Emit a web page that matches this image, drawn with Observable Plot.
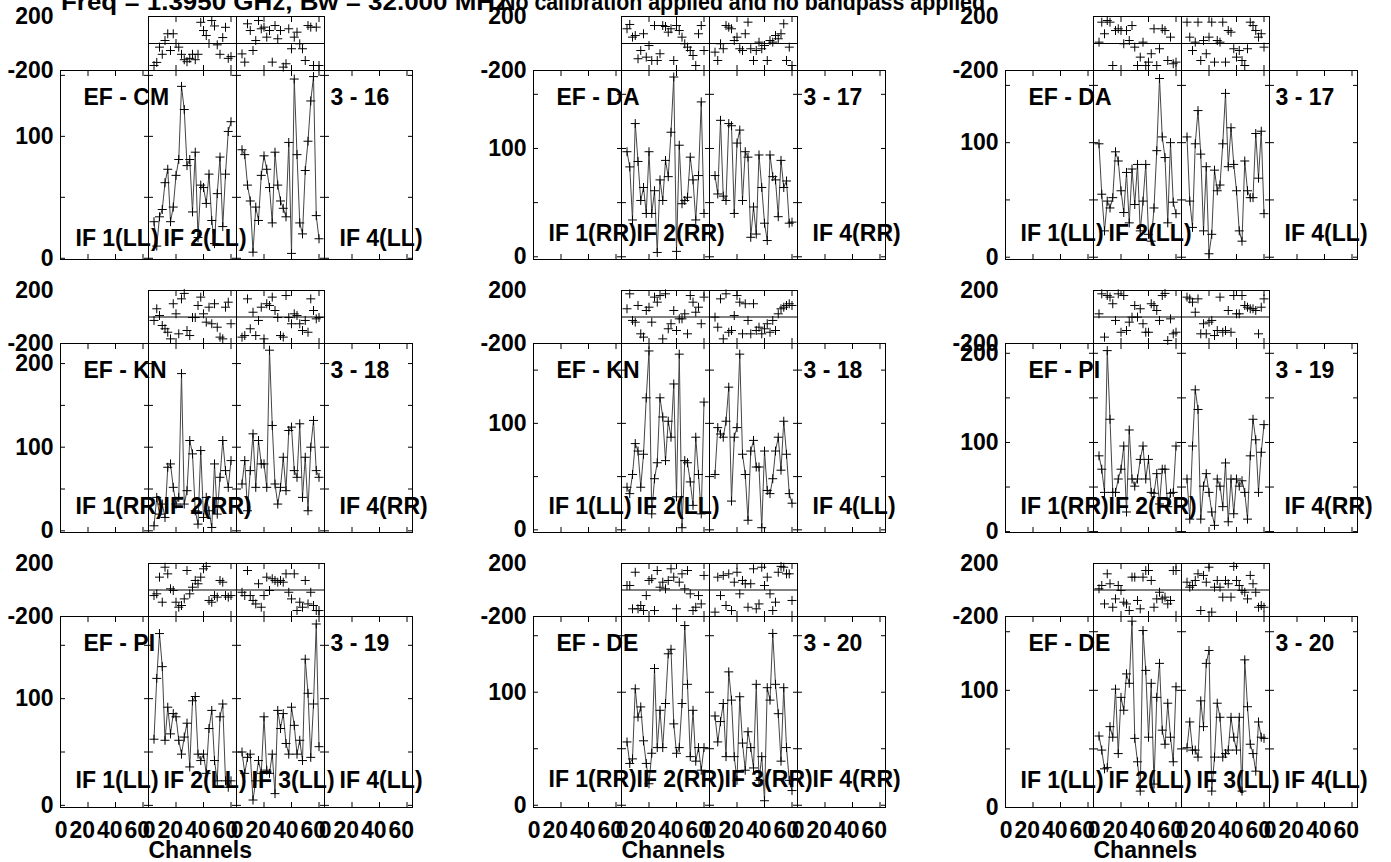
<!DOCTYPE html>
<html><head><meta charset="utf-8">
<script src="https://cdn.jsdelivr.net/npm/d3@7"></script>
<script src="https://cdn.jsdelivr.net/npm/@observablehq/plot@0.6"></script>
<style>
body{margin:0;background:#fff;}
#root{position:relative;width:1391px;height:862px;overflow:hidden;background:#fff;}
#root svg{position:absolute;overflow:visible;}
</style></head><body><div id="root"></div>
<script>
// ---------------- data ----------------
const channels = [4,6,8,10,12,14,16,18,20,22,24,26,28,30,32,34,36,38,40,42,44,46,48,50,52,54,56,58,60];
const ifNumbers = [1,2,3,4];
const channelTicks = [0,20,40,60];
const phaseTicks = [-200,200];
const ampLabelTicks = [0,100,200];
const ampMinorTicks = [0,50,100,150,200];

const baselineLabels = ["EF - CM","EF - DA","EF - DA","EF - KN","EF - KN","EF - PI","EF - PI","EF - DE","EF - DE"];
const timeLabels = ["3 - 16","3 - 17","3 - 17","3 - 18","3 - 18","3 - 19","3 - 19","3 - 20","3 - 20"];
const stokes = ["LL","RR","LL","RR","LL","RR","LL","RR","LL"];
const ampMin = [-1,-2.5,-2,-2,-2.5,-1,-2,-2,0];
const ampMax = [154,172,163,224,175,211,177,167,163];

// EF - CM (LL)
const amp11_if2 = [30,10,34,40,62,73,30,42,68,81,141,122,76,81,38,87,17,60,58,45,69,31,12,53,83,26,69,104,112];
const amp11_if3 = [89,85,60,47,5,42,31,68,84,73,58,29,87,60,47,41,34,95,4,147,85,29,20,72,96,129,149,35,16];
const ph11_if2 = [-163,-140,-27,-80,22,72,-52,72,0,-27,-80,-120,-135,-110,-80,-120,-80,157,96,59,0,170,130,-10,-80,44,120,-110,-97];
const ph11_if3 = [-77,-138,146,96,-52,22,170,109,121,47,96,-138,133,35,96,-175,-150,109,-39,47,84,-2,-39,-126,133,121,-163,121,-163];
// EF - DA (RR)
const amp12_if2 = [97,83,34,123,88,52,64,40,97,40,61,4,71,52,89,74,115,166,5,103,49,52,55,92,71,34,75,143,40];
const amp12_if3 = [75,58,126,56,52,123,121,40,105,117,52,97,92,18,46,21,94,64,31,15,94,74,71,37,89,64,70,31,32];
const ph12_if2 = [109,141,47,59,-113,-52,72,-101,-15,-126,133,-126,-76,133,126,84,109,-126,133,96,47,-2,-27,-52,-89,-163,72,133,-52];
const ph12_if3 = [-64,-126,-2,-39,133,121,109,22,47,-39,-52,72,158,-39,-126,-52,10,-39,-15,-126,22,10,59,35,72,146,-126,-27,-163];
// EF - DA (LL)
const amp13_if2 = [99,55,23,49,43,52,92,84,58,39,74,30,77,46,81,23,49,81,20,14,43,93,156,105,87,30,100,48,38];
const amp13_if3 = [105,49,26,99,128,90,23,79,3,20,76,58,63,99,143,79,113,81,58,23,14,84,58,52,52,108,69,110,38];
const ph13_if2 = [10,158,72,170,158,-163,96,109,96,-2,96,22,133,-27,-163,-101,10,-163,-138,-76,109,-163,-39,109,96,-126,47,-150,-138];
const ph13_if3 = [158,47,-52,10,158,-126,22,-76,47,158,-138,22,10,158,-138,96,84,-39,-101,-52,-126,-163,-39,158,133,96,47,72,-27];
// EF - KN (RR)
const amp21_if2 = [6,40,20,32,16,76,80,52,32,40,188,32,48,108,92,24,8,96,16,40,24,4,80,20,64,108,72,52,84];
const amp21_if3 = [56,84,24,72,116,52,108,80,80,52,216,126,56,32,52,88,48,120,124,72,64,128,40,88,24,100,132,72,64];
const ph21_if2 = [-26,62,11,-64,-89,-115,-165,100,24,-127,137,178,-102,-140,-4,-4,87,150,24,-39,74,-51,100,-77,-152,-165,74,112,-51];
const ph21_if3 = [-152,-140,137,-89,36,-140,-26,74,-165,100,87,150,49,-4,-140,-152,162,-4,-51,24,11,-51,-102,-26,-115,137,49,-14,-4];
// EF - KN (LL)
const amp22_if2 = [40,34,52,81,74,40,71,124,168,15,48,63,124,106,65,102,87,137,31,165,2,65,63,45,23,87,52,15,120];
const amp22_if3 = [52,96,90,87,102,134,27,87,96,165,71,52,9,74,84,59,59,2,74,37,34,48,74,87,56,102,71,34,25];
const ph22_if2 = [62,175,-26,-39,87,-127,-152,49,74,-39,150,112,162,-165,175,-89,-51,49,-102,-14,-14,24,-127,162,112,36,74,-51,150];
const ph22_if3 = [-1,-77,137,-165,175,-115,-102,11,162,112,-127,100,-26,-127,100,-102,-77,-127,-89,-51,-115,-26,-102,24,62,74,87,100,87];
// EF - PI (RR)
const amp23_if2 = [85,70,44,203,126,44,44,59,70,96,22,114,59,51,59,81,96,59,81,44,43,65,31,70,70,28,43,44,96];
const amp23_if3 = [59,14,96,159,137,14,51,65,44,22,7,59,51,28,77,11,59,20,59,51,57,44,14,85,126,103,44,89,120];
const ph23_if2 = [24,175,-152,162,150,100,-26,175,-115,162,-102,-39,-1,87,-1,62,-51,-115,-115,100,87,49,-26,162,178,-177,-14,-127,-115];
const ph23_if3 = [150,137,112,36,137,-127,-51,-127,-39,-26,-140,-102,150,-115,-102,49,-115,162,24,24,162,87,74,62,62,49,-127,74,137];
// EF - PI (LL)
const amp31_if2 = [62,119,161,130,61,92,67,86,83,61,48,64,77,36,98,102,48,42,48,30,72,89,42,23,83,95,23,17,23];
const amp31_if3 = [50,30,45,48,5,23,42,30,83,33,30,48,11,89,72,86,58,48,92,75,48,61,42,137,105,45,95,170,55];
const ph31_if2 = [-42,-29,97,-92,172,122,9,-4,-92,-130,-117,-67,147,-29,21,72,47,97,160,178,-79,-92,-42,-54,72,59,-42,-54,-42];
const ph31_if3 = [-17,-42,147,-42,-79,-105,47,-130,-42,97,-4,85,72,59,72,59,122,-17,-67,122,-155,-92,-130,72,-105,-17,-117,-155,-155];
// EF - DE (RR)
const amp32_if2 = [56,37,41,103,78,87,57,37,19,46,121,51,84,51,90,134,138,72,46,51,90,159,107,43,84,39,51,31,51];
const amp32_if3 = [79,56,74,90,43,118,93,43,22,96,55,31,65,51,33,107,22,43,4,104,93,152,107,81,39,104,51,22,13];
const ph32_if2 = [34,34,-142,134,-142,-117,-155,-42,72,85,-155,147,21,59,9,72,160,97,-142,59,122,9,147,-29,-155,-130,-42,-105,110];
const ph32_if3 = [-167,97,-42,110,-117,122,-155,59,134,-29,72,47,-130,47,160,-142,-105,172,34,97,-29,-155,-92,134,178,172,122,122,-79];
// EF - DE (LL)
const amp33_if2 = [61,49,33,34,69,60,101,46,94,83,114,106,159,59,39,14,151,117,60,106,20,94,123,66,54,89,60,39,103];
const amp33_if3 = [51,73,49,49,43,91,69,123,134,14,43,89,77,43,46,49,77,60,49,77,14,126,86,54,46,31,73,60,59];
const ph33_if2 = [9,34,-105,122,47,-130,-67,34,-4,-92,-105,-155,97,97,-79,-142,97,147,147,72,-130,-67,-17,-67,-54,-105,-79,147,147];
const ph33_if3 = [59,21,34,72,122,-155,110,59,172,-167,21,72,21,-54,72,47,-54,178,72,34,-4,-17,-67,110,47,-17,-130,-117,-130];

const titleLeft = "Freq = 1.3950 GHz, Bw = 32.000 MHz";
const titleRight = "No calibration applied and no bandpass applied";

// ---------------- layout ----------------
const colLeft = [59, 532, 1004];
const colWidth = [353, 353, 354];
const rowPhaseTop = [16, 290, 563];
const rowDivider = [70, 343, 616];
const rowAmpBottom = [259, 532, 807];
const ifLabelLift = [14, 19, 19, 19, 19, 19, 20, 21, 20];

const panels = [
  [amp11_if2, amp11_if3, ph11_if2, ph11_if3],
  [amp12_if2, amp12_if3, ph12_if2, ph12_if3],
  [amp13_if2, amp13_if3, ph13_if2, ph13_if3],
  [amp21_if2, amp21_if3, ph21_if2, ph21_if3],
  [amp22_if2, amp22_if3, ph22_if2, ph22_if3],
  [amp23_if2, amp23_if3, ph23_if2, ph23_if3],
  [amp31_if2, amp31_if3, ph31_if2, ph31_if3],
  [amp32_if2, amp32_if3, ph32_if2, ph32_if3],
  [amp33_if2, amp33_if3, ph33_if2, ph33_if3]
];

const FONT = '"Liberation Sans", Arial, Helvetica, sans-serif';
const baseStyle = {fontFamily: FONT, fontSize: "23px", fontWeight: "bold", background: "transparent", overflow: "visible", color: "black"};
const ML = 70, MR = 30, MT = 4;
const CROSS_R = 3.0;
const root = document.getElementById("root");

function put(svg, left, top) {
  svg.style.position = "absolute";
  svg.style.left = left + "px";
  svg.style.top = top + "px";
  root.appendChild(svg);
}

const inwardX = anchor => Plot.axisX({anchor, ticks: channelTicks, tickSize: -5, fill: null, label: null, facetAnchor: null, stroke: "black"});
const inwardY = (anchor, ticks) => Plot.axisY({anchor, ticks, tickSize: -5, fill: null, label: null, facetAnchor: null, stroke: "black"});

panels.forEach((p, k) => {
  const r = Math.floor(k / 3), c = k % 3;
  const fl = colLeft[c], fw = colWidth[c];
  const pt = rowPhaseTop[r], dv = rowDivider[r], ab = rowAmpBottom[r];
  const data = [];
  [[2, p[0], p[2]], [3, p[1], p[3]]].forEach(([ifn, a, ph]) => {
    channels.forEach((ch, i) => data.push({ifn, ch, amp: a[i], phase: ph[i]}));
  });
  const fxOpt = {domain: ifNumbers, padding: 0, axis: null};

  // phase panel
  const phase = Plot.plot({
    width: fw + ML + MR, height: (dv - pt) + 2 * MT,
    marginLeft: ML, marginRight: MR, marginTop: MT, marginBottom: MT,
    style: baseStyle,
    fx: fxOpt,
    x: {domain: [0, 64], axis: null},
    y: {domain: [-200, 200], axis: null},
    marks: [
      Plot.frame({stroke: "black"}),
      Plot.ruleY([0], {stroke: "black"}),
      inwardX("top"), inwardX("bottom"),
      Plot.axisY({anchor: "left", ticks: phaseTicks, tickSize: 0, tickPadding: 7, tickFormat: d => String(d), label: null, facetAnchor: "left"}),
      Plot.dot(data, {fx: "ifn", x: "ch", y: "phase", symbol: "plus", r: CROSS_R, stroke: "black", strokeWidth: 1})
    ]
  });
  put(phase, fl - ML, pt - MT);

  // amplitude panel
  const lo = ampMin[k], hi = ampMax[k];
  const minor = ampMinorTicks.filter(t => t <= hi);
  const major = ampLabelTicks.filter(t => t <= hi);
  const shownIF = r === 2 ? [1, 2, 3, 4] : [1, 2, 4];
  const ifLabels = shownIF.map(n => ({ifn: n, label: `IF ${n}(${stokes[k]})`}));
  const MB = r === 2 ? 64 : MT;
  const marks = [
    Plot.frame({stroke: "black"}),
    inwardX("top"), inwardX("bottom"),
    inwardY("left", minor), inwardY("right", minor),
    Plot.axisY({anchor: "left", ticks: major, tickSize: 0, tickPadding: 7, tickFormat: d => String(d), label: null, facetAnchor: "left"}),
    Plot.line(data, {fx: "ifn", x: "ch", y: "amp", z: "ifn", stroke: "#444", strokeWidth: 1}),
    Plot.dot(data, {fx: "ifn", x: "ch", y: "amp", symbol: "plus", r: CROSS_R, stroke: "black", strokeWidth: 1}),
    Plot.text([baselineLabels[k]], {fx: () => 1, text: d => d, frameAnchor: "top-left", dx: 23, dy: 34, textAnchor: "start", lineAnchor: "bottom", fill: "black"}),
    Plot.text([timeLabels[k]], {fx: () => 4, text: d => d, frameAnchor: "top-left", dx: 6, dy: 34, textAnchor: "start", lineAnchor: "bottom", fill: "black"}),
    Plot.text(ifLabels, {fx: "ifn", text: "label", frameAnchor: "bottom-left", dx: 15, dy: -ifLabelLift[k], textAnchor: "start", lineAnchor: "bottom", fill: "black"})
  ];
  if (r === 2) {
    marks.push(Plot.axisX({anchor: "bottom", ticks: channelTicks, tickSize: 0, tickPadding: 14, tickFormat: d => String(d), textAnchor: "end", dx: 7, label: null, facetAnchor: null}));
    marks.push(Plot.text(["Channels"], {fx: () => 2, text: d => d, frameAnchor: "bottom-left", dx: 0, dy: 50, textAnchor: "start", lineAnchor: "bottom", fill: "black"}));
  }
  const amp = Plot.plot({
    width: fw + ML + MR, height: (ab - dv) + MT + MB,
    marginLeft: ML, marginRight: MR, marginTop: MT, marginBottom: MB,
    style: baseStyle,
    fx: fxOpt,
    x: {domain: [0, 64], axis: null},
    y: {domain: [lo, hi], axis: null},
    marks
  });
  put(amp, fl - ML, dv - MT);
});

// title (clipped at top edge, as in the original)
const t = d3.create("svg").attr("width", 1391).attr("height", 30)
  .style("position", "absolute").style("left", "0px").style("top", "0px").style("overflow", "visible")
  .style("font-family", FONT).style("font-weight", "bold").style("font-size", "23px");
t.append("text").attr("x", 61).attr("y", 10).attr("textLength", 447).attr("lengthAdjust", "spacingAndGlyphs").text(titleLeft);
t.append("text").attr("x", 500).attr("y", 10).attr("textLength", 485).attr("lengthAdjust", "spacingAndGlyphs").text(titleRight);
root.appendChild(t.node());
</script>
</body></html>
